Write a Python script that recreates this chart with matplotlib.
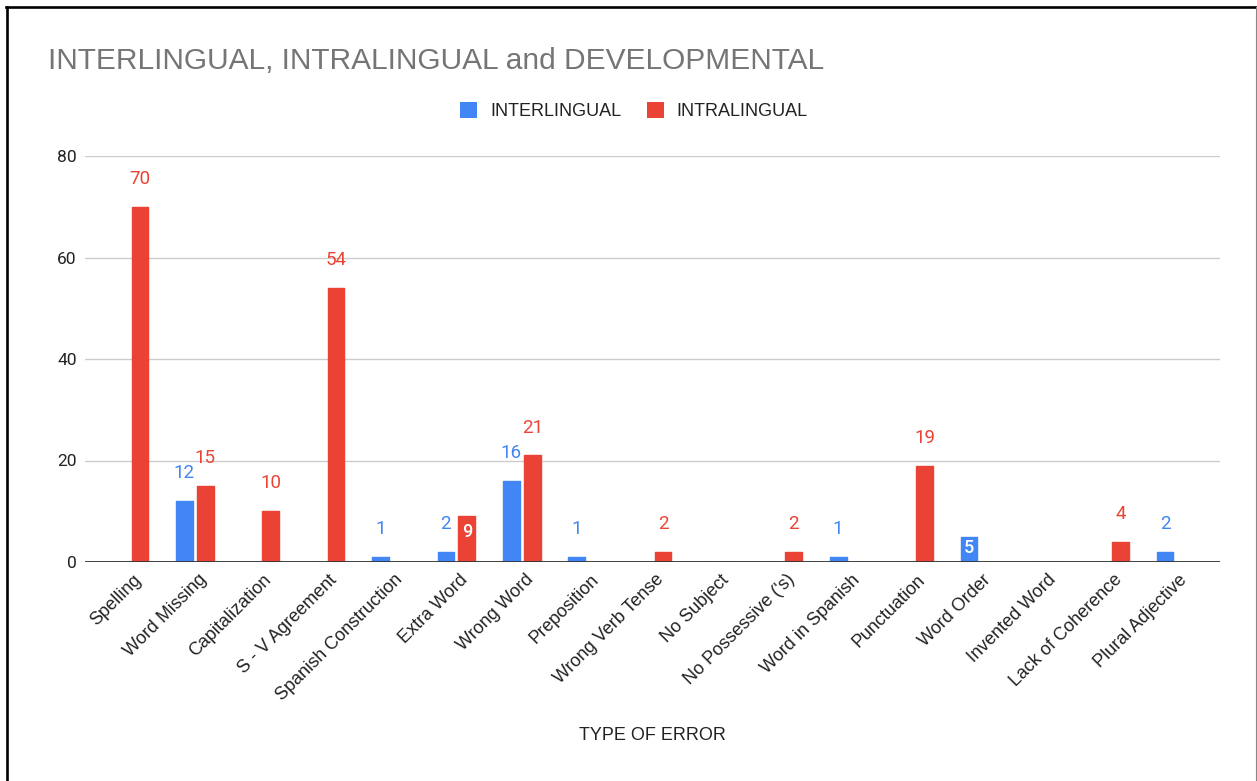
import numpy as np
import matplotlib.pyplot as plt
from matplotlib.patches import Patch
from matplotlib.lines import Line2D
import matplotlib.transforms as mtransforms

# Error counts per category
categories = ["Spelling", "Word Missing", "Capitalization", "S - V Agreement",
              "Spanish Construction", "Extra Word", "Wrong Word", "Preposition",
              "Wrong Verb Tense", "No Subject", "No Possessive ('s)", "Word in Spanish",
              "Punctuation", "Word Order", "Invented Word", "Lack of Coherence",
              "Plural Adjective"]
interlingual = [0, 12, 0, 0, 1, 2, 16, 1, 0, 0, 0, 1, 0, 5, 0, 0, 2]
intralingual = [70, 15, 10, 54, 0, 9, 21, 0, 2, 0, 2, 0, 19, 0, 0, 4, 0]
series_names = ["INTERLINGUAL", "INTRALINGUAL"]
yticks = [0, 20, 40, 60, 80]

BLUE = "#4285F4"
RED = "#EA4335"
TEXT = "#222222"

W, H = 1257, 781
fig = plt.figure(figsize=(W / 100, H / 100), dpi=100)
ax = fig.add_axes([85 / W, 219 / H, 1135 / W, 406 / H])

x = np.arange(len(categories))
bw = 0.255
off = 0.16
bars_a = ax.bar(x - off, interlingual, bw, color=BLUE, zorder=3,
                edgecolor=BLUE, linewidth=1.0, joinstyle="round")
bars_b = ax.bar(x + off, intralingual, bw, color=RED, zorder=3,
                edgecolor=RED, linewidth=1.0, joinstyle="round")

# labels that don't fit above get drawn inside the bar in white
inside = {(0, "Word Order"): -11, (1, "Extra Word"): -16}

for si, (bars, vals, col) in enumerate([(bars_a, interlingual, BLUE),
                                        (bars_b, intralingual, RED)]):
    for b, v, cat in zip(bars, vals, categories):
        if v == 0:
            continue
        cx = b.get_x() + b.get_width() / 2
        if (si, cat) in inside:
            dy = inside[(si, cat)] * 0.72
            ax.annotate(str(v), (cx, v), xytext=(0, dy), textcoords="offset points",
                        ha="center", va="center", color="white", fontsize=13,
                        family="Roboto", fontweight="medium", zorder=4)
        else:
            ax.annotate(str(v), (cx, v), xytext=(0, 20), textcoords="offset points",
                        ha="center", va="center", color=col, fontsize=13.5,
                        family="Roboto", zorder=4)

ax.set_xlim(-0.68, len(categories) - 1 + 0.68)
ax.set_ylim(0, 80)
ax.set_yticks(yticks)
ax.yaxis.grid(True, color="#cccccc", linewidth=1, zorder=0)
ax.axhline(0, color="#333333", linewidth=1.3, zorder=4)
for s in ax.spines.values():
    s.set_visible(False)
ax.tick_params(axis="y", length=0, pad=6, labelsize=12.5, labelcolor=TEXT)
for lab in ax.get_yticklabels():
    lab.set_family("Roboto")

ax.set_xticks(x)
ax.set_xticklabels(categories, rotation=45, ha="right", va="center",
                   rotation_mode="anchor", fontsize=13, color=TEXT,
                   family="Liberation Sans")
ax.tick_params(axis="x", length=0, pad=11)
shift = mtransforms.ScaledTranslation(9 / 100, 0, fig.dpi_scale_trans)
for lab in ax.get_xticklabels():
    lab.set_transform(lab.get_transform() + shift)

fig.text(48 / W, 1 - 61 / H, "INTERLINGUAL, INTRALINGUAL and DEVELOPMENTAL",
         ha="left", va="center", fontsize=21.5, color="#757575",
         family="Liberation Sans")
fig.text(652 / W, 1 - 735 / H, "TYPE OF ERROR", ha="center", va="center",
         fontsize=13, color=TEXT, family="Liberation Sans")

handles = [Patch(facecolor=BLUE), Patch(facecolor=RED)]
fig.legend(handles, series_names, loc="center", bbox_to_anchor=(634 / W, 1 - 111 / H),
           ncol=2, frameon=False, handlelength=0.95, handleheight=0.95,
           handletextpad=0.72, columnspacing=1.4,
           prop={"family": "Liberation Sans", "size": 13}, labelcolor=TEXT)

# frame around the chart
fig.add_artist(Line2D([7 / W, 7 / W], [0, 1 - 7 / H], transform=fig.transFigure,
                      color="black", linewidth=1.9))
fig.add_artist(Line2D([6 / W, 1], [1 - 7 / H, 1 - 7 / H], transform=fig.transFigure,
                      color="black", linewidth=1.9))
fig.add_artist(Line2D([1 - 1.5 / W, 1 - 1.5 / W], [0, 1 - 7 / H], transform=fig.transFigure,
                      color="#888888", linewidth=0.8))

fig.savefig("out.png", dpi=100)
